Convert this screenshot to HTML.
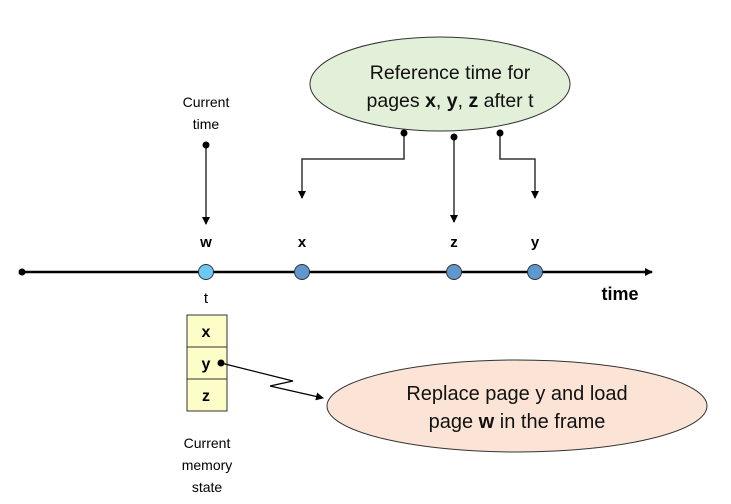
<!DOCTYPE html>
<html><head><meta charset="utf-8"><style>
html,body{margin:0;padding:0;background:#fff;}
svg{display:block;font-family:"Liberation Sans",sans-serif;}
</style></head><body>
<svg width="731" height="504" viewBox="0 0 731 504" xmlns="http://www.w3.org/2000/svg">
<defs>
<marker id="a" markerWidth="8" markerHeight="8" refX="7" refY="4" orient="auto" markerUnits="userSpaceOnUse"><path d="M0,0 L8,4 L0,8 z" fill="#000"/></marker>
</defs>
<ellipse cx="440" cy="84" rx="130" ry="47" fill="#e2efd9" stroke="#333" stroke-width="1"/>
<text x="450" y="79" font-size="19.5" text-anchor="middle" fill="#111">Reference time for</text>
<text x="450" y="107" font-size="19.5" text-anchor="middle" fill="#111">pages <tspan font-weight="bold">x</tspan>, <tspan font-weight="bold">y</tspan>, <tspan font-weight="bold">z</tspan> after t</text>
<g stroke="#333" stroke-width="1.5" fill="none">
<polyline points="404,133 404,159 302,159 302,198" marker-end="url(#a)"/>
<polyline points="454,137 454,222" marker-end="url(#a)"/>
<polyline points="500,133 500,159 535,159 535,198" marker-end="url(#a)"/>
<polyline points="206,143 206,224" marker-end="url(#a)"/>
</g>
<circle cx="404" cy="133" r="3.5"/><circle cx="454" cy="137" r="3.5"/><circle cx="500" cy="133" r="3.5"/><circle cx="206" cy="145" r="3.5"/>
<text x="206" y="107" font-size="14" text-anchor="middle">Current</text>
<text x="206" y="129" font-size="14" text-anchor="middle">time</text>
<g font-size="15" font-weight="bold" text-anchor="middle">
<text x="206" y="247">w</text><text x="302" y="247">x</text><text x="454" y="247">z</text><text x="535" y="247">y</text>
</g>
<line x1="22" y1="272" x2="652" y2="272" stroke="#000" stroke-width="2.5" marker-end="url(#a)"/>
<circle cx="22" cy="272" r="3.5"/>
<circle cx="206" cy="272" r="7.5" fill="#6ec8f7" stroke="#333" stroke-width="1"/>
<circle cx="302" cy="272" r="7.5" fill="#5f97cf" stroke="#333" stroke-width="1"/>
<circle cx="454" cy="272" r="7.5" fill="#5f97cf" stroke="#333" stroke-width="1"/>
<circle cx="535" cy="272" r="7.5" fill="#5f97cf" stroke="#333" stroke-width="1"/>
<text x="206" y="303" font-size="15" text-anchor="middle">t</text>
<text x="620" y="300" font-size="18" font-weight="bold" text-anchor="middle">time</text>
<g fill="#fdfdc8" stroke="#333" stroke-width="1">
<rect x="187" y="315" width="40" height="32"/><rect x="187" y="347" width="40" height="32"/><rect x="187" y="379" width="40" height="32"/>
</g>
<g font-size="16" font-weight="bold" text-anchor="middle">
<text x="206" y="337">x</text><text x="206" y="369">y</text><text x="206" y="401">z</text>
</g>
<circle cx="221" cy="363" r="3.5"/>
<polyline points="221,363 293,381 270,386 323,398" fill="none" stroke="#000" stroke-width="1.3" marker-end="url(#a)"/>
<text x="207" y="448" font-size="14" text-anchor="middle">Current</text>
<text x="207" y="470" font-size="14" text-anchor="middle">memory</text>
<text x="207" y="492" font-size="14" text-anchor="middle">state</text>
<ellipse cx="517" cy="406" rx="190" ry="46" fill="#fbe4d5" stroke="#333" stroke-width="1"/>
<text x="517" y="400" font-size="20" text-anchor="middle" fill="#111">Replace page y and load</text>
<text x="517" y="428" font-size="20" text-anchor="middle" fill="#111">page <tspan font-weight="bold">w</tspan> in the frame</text>
</svg>
</body></html>
